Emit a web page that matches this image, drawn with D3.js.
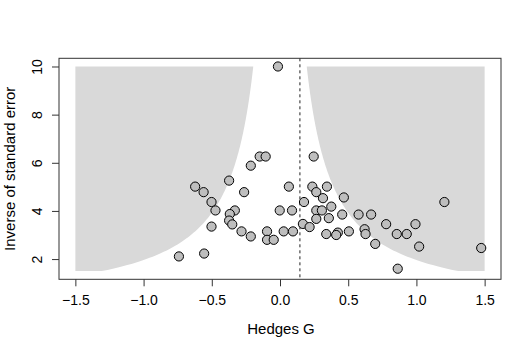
<!DOCTYPE html>
<html>
<head>
<meta charset="utf-8">
<script src="https://cdn.jsdelivr.net/npm/d3@7"></script>
<style>
  body { margin: 0; background: #fff; }
  svg text { font-family: "Liberation Sans", Arial, sans-serif; fill: #000; }
</style>
</head>
<body>
<svg id="chart" width="532" height="353"></svg>
<script>
// effect sizes (Hedges G) and inverse standard errors
let hedgesG = [-0.015, -0.149, -0.105, -0.214, -0.373, -0.622, -0.560, -0.263, -0.502, -0.473,
  -0.331, -0.368, -0.373, -0.350, -0.502, -0.282, -0.214, -0.095, -0.095, -0.046,
  -0.002, 0.027, -0.741, -0.556, 0.065, 0.088, 0.095, 0.247, 0.176, 0.168,
  0.217, 0.237, 0.266, 0.315, 0.344, 0.468, 0.376, 0.266, 0.307, 0.456,
  0.576, 0.668, 0.266, 0.358, 0.339, 0.424, 0.412, 0.505, 0.620, 0.627,
  0.698, 0.778, 0.856, 0.929, 0.993, 1.020, 0.863, 1.205, 1.475];
let invSE = [10.0, 6.26, 6.26, 5.88, 5.26, 5.01, 4.78, 4.78, 4.37, 4.02,
  4.02, 3.87, 3.60, 3.44, 3.35, 3.15, 2.94, 3.15, 2.80, 2.80,
  4.02, 3.15, 2.11, 2.23, 5.01, 4.02, 3.15, 6.26, 4.37, 3.46,
  3.33, 5.01, 4.78, 4.53, 5.01, 4.56, 4.18, 4.02, 4.02, 3.85,
  3.85, 3.85, 3.67, 3.70, 3.04, 3.10, 3.00, 3.15, 3.24, 3.04,
  2.63, 3.45, 3.04, 3.04, 3.45, 2.52, 1.60, 4.37, 2.46];

let pooled = 0.146;     // dashed reference line
let refline = 0;        // centre of the contour funnel
let zCrit = 1.96;       // 95% contour
let xLim = [-1.5, 1.5];
let yLim = [1.5, 10];
let xTicks = [-1.5, -1.0, -0.5, 0.0, 0.5, 1.0, 1.5];
let yTicks = [2, 4, 6, 8, 10];

const svg = d3.select("#chart");
const plotLeft = 59, plotRight = 501, plotTop = 58.3, plotBottom = 279.3;

// R style axis extension of 4%
function extend(lim) {
  let d = (lim[1] - lim[0]) * 0.04;
  return [lim[0] - d, lim[1] + d];
}

let x = d3.scaleLinear().domain(extend(xLim)).range([plotLeft, plotRight]);
let y = d3.scaleLinear().domain(extend(yLim)).range([plotBottom, plotTop]);

// shaded regions outside the funnel (p < .05)
let ys = d3.range(yLim[1], yLim[0] - 1e-9, -0.05);
let line = d3.line().x(d => x(d[0])).y(d => y(d[1]));

let leftPoly = [[xLim[0], yLim[1]]]
  .concat(ys.map(v => [Math.max(xLim[0], refline - zCrit / v), v]))
  .concat([[xLim[0], yLim[0]]]);
let rightPoly = [[xLim[1], yLim[1]]]
  .concat(ys.map(v => [Math.min(xLim[1], refline + zCrit / v), v]))
  .concat([[xLim[1], yLim[0]]]);

svg.selectAll("path.shade")
  .data([leftPoly, rightPoly])
  .enter().append("path")
  .attr("class", "shade")
  .attr("d", d => line(d) + "Z")
  .attr("fill", "#d9d9d9");

// dashed line at the pooled estimate
svg.append("line")
  .attr("x1", x(pooled)).attr("x2", x(pooled))
  .attr("y1", plotTop).attr("y2", plotBottom)
  .attr("stroke", "#222")
  .attr("stroke-width", 1)
  .attr("stroke-dasharray", "3,3");

// studies
svg.selectAll("circle")
  .data(hedgesG.map((g, i) => [g, invSE[i]]))
  .enter().append("circle")
  .attr("cx", d => x(d[0]))
  .attr("cy", d => y(d[1]))
  .attr("r", 4.6)
  .attr("fill", "#bebebe")
  .attr("stroke", "#000")
  .attr("stroke-width", 1);

// frame
svg.append("rect")
  .attr("x", plotLeft).attr("y", plotTop)
  .attr("width", plotRight - plotLeft).attr("height", plotBottom - plotTop)
  .attr("fill", "none")
  .attr("stroke", "#333")
  .attr("stroke-width", 1);

// x axis
let xAxis = d3.axisBottom(x)
  .tickValues(xTicks)
  .tickSize(7)
  .tickPadding(5)
  .tickFormat(d3.format(".1f"));
let gx = svg.append("g").attr("transform", "translate(0," + plotBottom + ")").call(xAxis);
gx.select(".domain").remove();
gx.selectAll("line").attr("stroke", "#333");
gx.selectAll("text").attr("font-size", 14).attr("dy", "0.95em");

// y axis, labels parallel to the axis
let yAxis = d3.axisLeft(y)
  .tickValues(yTicks)
  .tickSize(7)
  .tickFormat(d3.format("d"));
let gy = svg.append("g").attr("transform", "translate(" + plotLeft + ",0)").call(yAxis);
gy.select(".domain").remove();
gy.selectAll("line").attr("stroke", "#333");
gy.selectAll("text")
  .attr("font-size", 14)
  .attr("x", null).attr("dy", null)
  .attr("text-anchor", "middle")
  .attr("transform", "translate(-17.5,0) rotate(-90)");

// axis titles
svg.append("text")
  .attr("x", 281).attr("y", 333.7)
  .attr("text-anchor", "middle")
  .attr("font-size", 15)
  .text("Hedges G");

svg.append("text")
  .attr("transform", "translate(15.3," + (plotTop + plotBottom) / 2 + ") rotate(-90)")
  .attr("text-anchor", "middle")
  .attr("font-size", 15)
  .text("Inverse of standard error");
</script>
</body>
</html>
